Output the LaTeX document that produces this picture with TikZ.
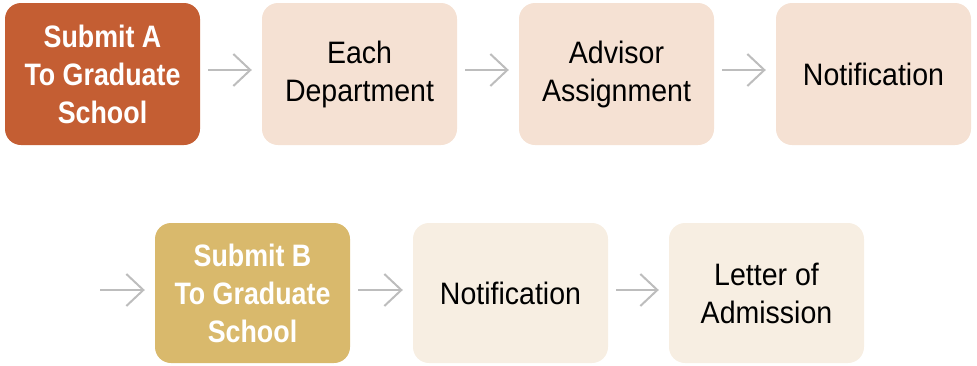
\documentclass[tikz,border=0pt]{standalone}
\usepackage{fontspec}
\setmainfont{Liberation Sans}[FakeStretch=0.92]
\newfontfamily\boldcond{Liberation Sans Bold}[FakeStretch=0.865]
\usetikzlibrary{arrows.meta}
\definecolor{cA}{HTML}{C45E33}
\definecolor{cB}{HTML}{D9B96C}
\definecolor{lA}{HTML}{F5E1D3}
\definecolor{lB}{HTML}{F7EEE2}
\definecolor{arr}{HTML}{BDBDBD}
\tikzset{
  box/.style={rounded corners=16pt, minimum width=195pt, minimum height=142pt, inner sep=0pt, align=center, font=\fontsize{31}{38}\selectfont},
  strong/.style={box, text=white, font=\fontsize{31}{38}\boldcond},
  flow/.style={draw=arr, line width=2pt, -{Straight Barb[length=17pt,width=32pt,line width=2pt]}, shorten <=8pt, shorten >=10pt},
}
\begin{document}
\begin{tikzpicture}[x=1pt,y=-1pt]
\useasboundingbox (0,0) rectangle (977,365);
\node[strong, fill=cA] (a1) at (102.5,74) {Submit A\\To Graduate\\School};
\node[box, fill=lA] (a2) at (359.5,74) {Each\\Department};
\node[box, fill=lA] (a3) at (616.5,74) {Advisor\\Assignment};
\node[box, fill=lA] (a4) at (873.5,74) {Notification};
\node[strong, fill=cB, minimum height=140pt] (b1) at (252.5,293) {Submit B\\To Graduate\\School};
\node[box, fill=lB, minimum height=140pt] (b2) at (510.5,293) {Notification};
\node[box, fill=lB, minimum height=140pt] (b3) at (766.5,293) {Letter of\\Admission};
\coordinate (s) at (92,290);
\draw[flow] (a1.east |- 0,70) -- (a2.west |- 0,70);
\draw[flow] (a2.east |- 0,70) -- (a3.west |- 0,70);
\draw[flow] (a3.east |- 0,70) -- (a4.west |- 0,70);
\draw[flow] (s) -- (b1.west |- s);
\draw[flow] (b1.east |- 0,290) -- (b2.west |- 0,290);
\draw[flow] (b2.east |- 0,290) -- (b3.west |- 0,290);
\end{tikzpicture}
\end{document}
